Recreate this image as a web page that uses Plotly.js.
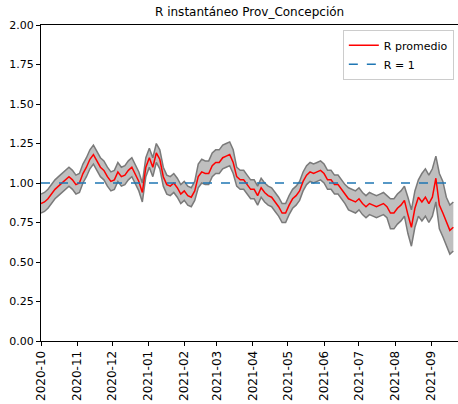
<!DOCTYPE html>
<html>
<head>
<meta charset="utf-8">
<script src="https://cdn.plot.ly/plotly-3.0.1.min.js"></script>
<style>html,body{margin:0;padding:0;background:#fff;}#chart{width:458px;height:404px;}</style>
</head>
<body>
<div id="chart"></div>
<script>
// x grid: every 3 days starting 2020-10-01
const startDate = '2020-10-01';
const stepDays = 3;

const rMean = [
0.87,0.88,0.90,0.93,0.96,0.98,1.00,1.02,1.04,1.02,
0.99,1.00,1.06,1.10,1.15,1.18,1.14,1.10,1.08,1.04,
1.01,1.02,1.07,1.04,1.05,1.08,1.10,1.05,1.01,0.94,
1.10,1.16,1.10,1.19,1.15,1.04,0.99,0.98,1.00,0.97,
0.93,0.95,0.92,0.91,0.95,1.04,1.07,1.06,1.06,1.11,
1.13,1.13,1.16,1.17,1.18,1.13,1.04,1.02,1.02,0.99,
0.96,0.96,0.92,0.97,0.94,0.92,0.91,0.88,0.85,0.81,
0.81,0.86,0.90,0.92,0.95,1.01,1.05,1.07,1.06,1.07,
1.08,1.06,1.02,1.02,0.99,0.99,0.96,0.93,0.90,0.89,
0.88,0.90,0.87,0.85,0.87,0.86,0.85,0.86,0.87,0.85,
0.81,0.81,0.84,0.86,0.89,0.80,0.72,0.84,0.91,0.88,
0.91,0.87,0.91,1.03,0.86,0.81,0.75,0.70,0.72
];

const rUpper = [
0.93,0.94,0.96,0.99,1.02,1.04,1.06,1.08,1.10,1.08,
1.05,1.06,1.12,1.16,1.21,1.24,1.20,1.16,1.14,1.10,
1.07,1.08,1.13,1.10,1.11,1.14,1.16,1.11,1.07,1.00,
1.16,1.22,1.16,1.25,1.21,1.10,1.05,1.04,1.06,1.03,
0.99,1.01,0.98,0.97,1.01,1.12,1.15,1.14,1.14,1.19,
1.21,1.21,1.24,1.25,1.26,1.21,1.10,1.08,1.08,1.05,
1.02,1.02,0.98,1.03,1.00,0.98,0.97,0.94,0.91,0.87,
0.87,0.92,0.96,0.98,1.01,1.07,1.11,1.13,1.12,1.13,
1.14,1.12,1.08,1.08,1.05,1.05,1.02,0.99,0.97,0.96,
0.95,0.97,0.94,0.92,0.94,0.93,0.92,0.93,0.94,0.92,
0.90,0.90,0.93,0.95,0.98,0.91,0.83,0.95,1.02,1.06,
1.09,1.05,1.09,1.17,1.06,1.01,0.91,0.86,0.88
];

const rLower = [
0.81,0.82,0.84,0.87,0.90,0.92,0.94,0.96,0.98,0.96,
0.93,0.94,1.00,1.04,1.09,1.12,1.08,1.04,1.02,0.98,
0.95,0.96,1.01,0.98,0.99,1.02,1.04,0.99,0.95,0.88,
1.04,1.10,1.04,1.13,1.09,0.98,0.93,0.92,0.94,0.91,
0.87,0.89,0.86,0.85,0.89,0.97,1.00,0.99,0.99,1.04,
1.06,1.06,1.09,1.10,1.11,1.06,0.98,0.96,0.96,0.93,
0.90,0.90,0.86,0.91,0.88,0.86,0.85,0.82,0.79,0.75,
0.75,0.80,0.84,0.86,0.89,0.95,0.99,1.01,1.00,1.01,
1.02,1.00,0.96,0.96,0.93,0.93,0.90,0.87,0.83,0.82,
0.81,0.83,0.80,0.78,0.80,0.79,0.78,0.79,0.80,0.78,
0.71,0.71,0.74,0.76,0.79,0.68,0.60,0.72,0.79,0.76,
0.79,0.75,0.79,0.88,0.71,0.66,0.60,0.55,0.57
];

const refValue = 1;
const yTickVals = [0, 0.25, 0.5, 0.75, 1.0, 1.25, 1.5, 1.75, 2.0];

const dates = [];
{
  const d0 = new Date(startDate + 'T00:00:00Z');
  for (let i = 0; i < rMean.length; i++) {
    const d = new Date(d0.getTime() + i * stepDays * 86400000);
    dates.push(d.toISOString().slice(0, 10));
  }
}

const ff = 'DejaVu Sans, sans-serif';
const font = {family: ff, size: 10, color: '#000'};

const traces = [
  {x: dates, y: rLower, type: 'scatter', mode: 'lines',
   line: {color: '#7a7a7a', width: 1.5}, showlegend: false, hoverinfo: 'skip'},
  {x: dates, y: rUpper, type: 'scatter', mode: 'lines', fill: 'tonexty',
   fillcolor: 'rgba(128,128,128,0.5)',
   line: {color: '#7a7a7a', width: 1.5}, showlegend: false, hoverinfo: 'skip'},
  {x: dates, y: rMean, type: 'scatter', mode: 'lines', name: 'R promedio',
   line: {color: '#ff0000', width: 1.5}},
  {x: [dates[0], dates[dates.length - 1]], y: [refValue, refValue], type: 'scatter', mode: 'lines',
   name: 'R = 1', line: {color: '#1f77b4', width: 1.5, dash: 'dash'}}
];

const layout = {
  width: 458, height: 404,
  margin: {l: 41, r: 0, t: 25, b: 63},
  paper_bgcolor: '#fff', plot_bgcolor: '#fff',
  font: font,
  title: {text: 'R instantáneo Prov_Concepción', font: {family: ff, size: 12, color: '#000'},
          x: 0.545, xanchor: 'center', y: 0.97, yanchor: 'middle'},
  xaxis: {
    type: 'date', range: ['2020-10-01', '2021-09-24'],
    tick0: '2020-10-01', dtick: 'M1', tickformat: '%Y-%m', tickangle: -90,
    ticks: 'outside', ticklen: 4, tickcolor: '#000', tickwidth: 1,
    showline: true, linecolor: '#000', linewidth: 1, mirror: true,
    showgrid: false, zeroline: false, tickfont: {family: ff, size: 12, color: '#000'}
  },
  yaxis: {
    range: [0, 2], tickvals: yTickVals, tickformat: '.2f',
    ticks: 'outside', ticklen: 4, tickcolor: '#000', tickwidth: 1,
    showline: true, linecolor: '#000', linewidth: 1, mirror: false,
    showgrid: false, zeroline: false, tickfont: {family: ff, size: 11, color: '#000'}
  },
  legend: {
    x: 0.99, xanchor: 'right', y: 0.985, yanchor: 'top', traceorder: 'normal',
    bgcolor: 'rgba(255,255,255,0.8)', bordercolor: '#cccccc', borderwidth: 1,
    font: {family: ff, size: 11, color: '#000'}, tracegroupgap: 0, itemwidth: 30
  },
  showlegend: true
};

Plotly.newPlot('chart', traces, layout, {displayModeBar: false, staticPlot: true});
</script>
</body>
</html>
